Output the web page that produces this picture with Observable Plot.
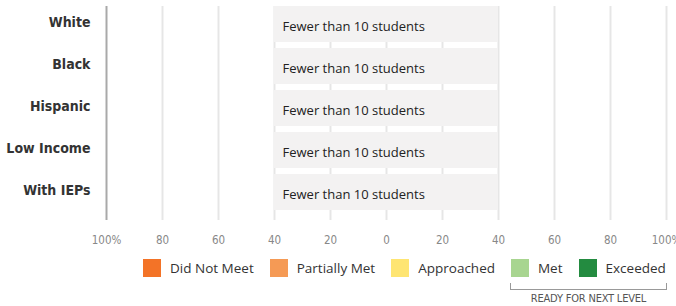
<!DOCTYPE html>
<html>
<head>
<meta charset="utf-8">
<script src="https://cdn.jsdelivr.net/npm/d3@7"></script>
<script src="https://cdn.jsdelivr.net/npm/@observablehq/plot@0.6"></script>
<style>
  html, body { margin: 0; padding: 0; background: #fff; overflow: hidden; }
  #wrap { width: 676px; }
  .legend { display: flex; align-items: center; padding-left: 143px; margin-top: 7px; font-family: "Open Sans", sans-serif; font-size: 13.5px; color: #333; white-space: nowrap; width: 676px; box-sizing: border-box; }
  .item { display: flex; align-items: center; margin-right: 16px; flex-shrink: 0; }
  .sw { width: 18px; height: 18px; margin-right: 9px; flex-shrink: 0; }
  .ready { position: relative; margin-left: 510px; width: 157px; }
  .bracket { height: 6px; border: 1px solid #999; border-top: none; margin-top: 6px; }
  .ready-label { text-align: center; font-family: "DejaVu Sans Condensed", sans-serif; font-stretch: condensed; font-size: 11px; color: #555; margin-top: 2px; letter-spacing: -0.2px; white-space: nowrap; }
</style>
</head>
<body>
<div id="wrap"></div>
<script>
const categories = ["White", "Black", "Hispanic", "Low Income", "With IEPs"];
const notes = ["Fewer than 10 students", "Fewer than 10 students", "Fewer than 10 students", "Fewer than 10 students", "Fewer than 10 students"];
const suppressedFrom = -40;
const suppressedTo = 40;
const tickValues = [-100, -80, -60, -40, -20, 0, 20, 40, 60, 80, 100];
const tickLabels = ["100%", "80", "60", "40", "20", "0", "20", "40", "60", "80", "100%"];
const levels = ["Did Not Meet", "Partially Met", "Approached", "Met", "Exceeded"];
const levelColors = ["#f37327", "#f59a55", "#fee572", "#a8d590", "#238b40"];
const readyLevels = ["Met", "Exceeded"];
const readyLabel = "READY FOR NEXT LEVEL";

const rows = categories.map((c, i) => ({category: c, note: notes[i], x1: suppressedFrom, x2: suppressedTo}));
const ticks = tickValues.map((v, i) => ({v, label: tickLabels[i]}));

const condensed = "DejaVu Sans Condensed, sans-serif";

const chart = Plot.plot({
  width: 676,
  height: 252,
  marginLeft: 106,
  marginRight: 10,
  marginTop: 6,
  marginBottom: 32,
  style: {background: "#fff", overflow: "visible"},
  x: {domain: [-100, 100], axis: null},
  y: {domain: categories, paddingInner: 0.14, paddingOuter: 0.07, align: 0, axis: null},
  marks: [
    Plot.ruleX(tickValues.filter(v => v !== -100), {stroke: "#e6e6e6", strokeWidth: 2}),
    Plot.ruleX([-100], {stroke: "#a9a9a9", strokeWidth: 2}),
    Plot.barX(rows, {y: "category", x1: "x1", x2: "x2", fill: "#f3f2f2"}),
    Plot.text(rows, {y: "category", x: "x1", text: "note", dx: 8, dy: 2, textAnchor: "start", fontSize: 13, fill: "#222", fontFamily: "Open Sans, sans-serif"}),
    Plot.axisY({label: null, tickSize: 0, tickPadding: 16, fontSize: 14, fontWeight: "bold", fill: "#333", dy: -2, fontFamily: condensed}),
    Plot.text(ticks, {x: "v", frameAnchor: "bottom", dy: 23, text: "label", fontSize: 11.5, fill: "#888", fontFamily: condensed, letterSpacing: -0.3})
  ]
});

const wrap = document.getElementById("wrap");
wrap.appendChild(chart);

const legend = document.createElement("div");
legend.className = "legend";
levels.forEach((lv, i) => {
  const it = document.createElement("div");
  it.className = "item";
  const sw = document.createElement("div");
  sw.className = "sw";
  sw.style.background = levelColors[i];
  const tx = document.createElement("span");
  tx.textContent = lv;
  it.appendChild(sw);
  it.appendChild(tx);
  legend.appendChild(it);
});
wrap.appendChild(legend);

const ready = document.createElement("div");
ready.className = "ready";
ready.innerHTML = '<div class="bracket"></div><div class="ready-label"></div>';
ready.querySelector(".ready-label").textContent = readyLabel;
wrap.appendChild(ready);
</script>
</body>
</html>
